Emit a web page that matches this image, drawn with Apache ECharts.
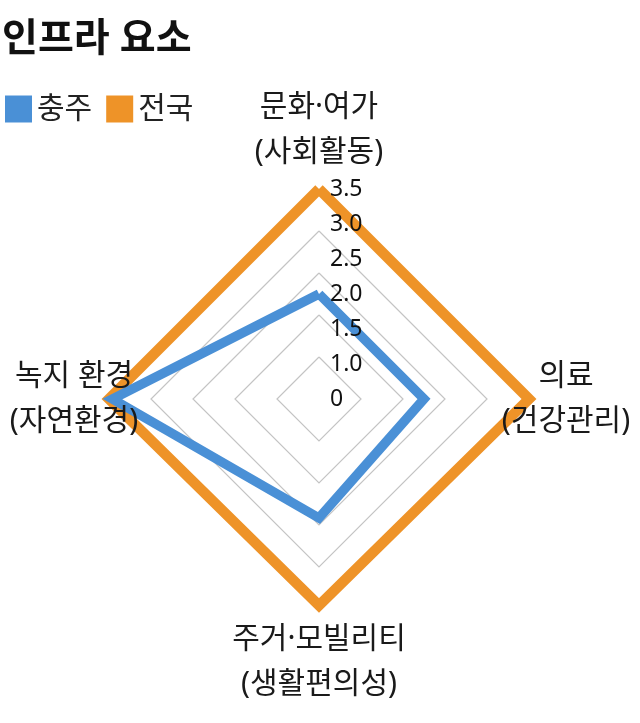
<!DOCTYPE html>
<html><head><meta charset="utf-8">
<script src="https://cdn.jsdelivr.net/npm/echarts@6/dist/echarts.min.js"></script>
<style>html,body{margin:0;padding:0;background:#fff}#c{width:640px;height:723px}</style>
</head><body><div id="c"></div>
<script>
// ---- data ----
const titleText = '인프라 요소';
const seriesNames = ['충주', '전국'];
// order: top, left, bottom, right (ECharts radar goes counter-clockwise)
const indicatorNames = ['문화·여가\n(사회활동)', '녹지 환경\n(자연환경)', '주거·모빌리티\n(생활편의성)', '의료\n(건강관리)'];
const chungjuValues = [2.0, 3.45, 2.2, 2.0];
const nationalValues = [3.5, 3.5, 3.45, 3.5];
const scaleMin = 0.5;
const scaleMax = 3.5;
const tickLabels = ['0', '1.0', '1.5', '2.0', '2.5', '3.0', '3.5'];

// ---- styling ----
const FONT = '"Noto Sans", "Noto Sans CJK KR", sans-serif';
const BLUE = '#4a90d6';
const ORANGE = '#ee9328';
const nameLayouts = [
  { gap: 14, align: 'center', vAlign: 'bottom' },
  { gap: 35, align: 'center', vAlign: 'middle' },
  { gap: 8, align: 'center', vAlign: 'top' },
  { gap: 37, align: 'center', vAlign: 'middle' }
];
const center = [319, 399];
const radius = 210;

const chart = echarts.init(document.getElementById('c'), null, { renderer: 'canvas' });

// ring grid + data (drawn below the series lines' text overlay)
const ringIndicators = indicatorNames.map(n => ({ name: n, min: scaleMin, max: scaleMax }));
// overlay: axis names + tick labels, drawn above the lines
const labelIndicators = indicatorNames.map((n, i) => ({
  name: n, min: scaleMin, max: scaleMax,
  nameGap: nameLayouts[i].gap,
  nameTextStyle: { align: nameLayouts[i].align, verticalAlign: nameLayouts[i].vAlign },
  axisLabel: { show: i === 0 }
}));

chart.setOption({
  backgroundColor: '#fff',
  animation: false,
  title: {
    text: titleText, left: -3, top: 15,
    textStyle: { fontFamily: FONT, fontSize: 39, fontWeight: 'bold', color: '#111' }
  },
  legend: {
    data: seriesNames, left: 0, top: 89, icon: 'rect',
    itemWidth: 27, itemHeight: 27, itemGap: 14,
    textStyle: { fontFamily: FONT, fontSize: 30, color: '#222' }
  },
  radar: [
    {
      center: center, radius: radius, startAngle: 90, splitNumber: 5, shape: 'polygon',
      indicator: ringIndicators,
      axisName: { show: false },
      axisLine: { show: false }, axisTick: { show: false }, axisLabel: { show: false },
      splitArea: { show: false },
      splitLine: { lineStyle: { color: '#c4c4c4', width: 1.2 } }
    },
    {
      z: 5,
      center: center, radius: radius, startAngle: 90, splitNumber: 6, shape: 'polygon',
      indicator: labelIndicators,
      axisName: { show: true, color: '#1a1a1a', fontFamily: FONT, fontSize: 30, lineHeight: 45 },
      axisLine: { show: false }, axisTick: { show: false },
      splitArea: { show: false }, splitLine: { show: false },
      axisLabel: {
        show: true, margin: -11, align: 'left', fontFamily: FONT, fontSize: 23, color: '#111',
        showMinLabel: true, showMaxLabel: true,
        formatter: v => tickLabels[Math.round((v - scaleMin) / 0.5)]
      }
    }
  ],
  series: [{
    type: 'radar', radarIndex: 0, symbol: 'none',
    data: [
      { name: seriesNames[1], value: nationalValues,
        itemStyle: { color: ORANGE },
        lineStyle: { color: ORANGE, width: 10.5, join: 'miter' } },
      { name: seriesNames[0], value: chungjuValues,
        itemStyle: { color: BLUE },
        lineStyle: { color: BLUE, width: 9.5, join: 'miter' } }
    ]
  }]
});
</script></body></html>
